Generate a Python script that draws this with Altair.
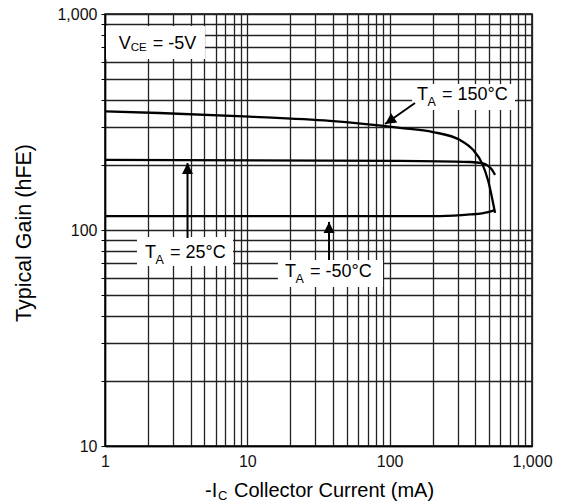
import altair as alt
import pandas as pd

FONT = "Liberation Sans"
INK = "#111111"

# Typical DC current gain vs. collector current, V_CE = -5 V
current_150 = [1, 2.4, 10.4, 38, 118, 202, 312, 385, 445, 491, 550]
gain_150 = [354, 348, 335, 320, 297, 284, 261, 235, 204, 170, 120]

current_25 = [1, 118, 369, 445, 491, 530, 550]
gain_25 = [211, 209, 206.5, 204, 198, 188, 180]

current_m50 = [1, 226, 369, 445, 491, 550]
gain_m50 = [116, 116, 118, 119.5, 121, 124]

# Log-decade grid positions and labelled decades
x_ticks = [1, 2, 3, 4, 5, 6, 7, 8, 9,
           10, 20, 30, 40, 50, 60, 70, 80, 90,
           100, 200, 300, 400, 500, 600, 700, 800, 900, 1000]
y_ticks = [10, 20, 30, 40, 50, 60, 70, 80, 90,
           100, 200, 300, 400, 500, 600, 700, 800, 900, 1000]

# Annotation anchors (data units): label text origin, white box, arrow tail/tip
label_names = ["vce", "t150", "t25", "tm50"]
label_x = [1.25, 155.6, 1.91, 18.4]
label_y = [686, 400, 73.9, 60.8]
box_x1 = [1.016, 143.6, 1.677, 16.4]
box_x2 = [5.04, 760, 7.93, 89.8]
box_y1 = [880, 474, 92.8, 72.6]
box_y2 = [619, 359, 68.1, 54.5]
arrow_x1 = [150.7, 3.80, 37.5]
arrow_y1 = [387, 91.8, 72.6]
arrow_x2 = [92.8, 3.80, 37.5]
arrow_y2 = [309.6, 204, 109]
arrow_angle = [236, 0, 0]

x_scale = alt.Scale(type="log", domain=[1, 1000], nice=False)
y_scale = alt.Scale(type="log", domain=[10, 1000], nice=False)
label_expr = "indexof([1, 10, 100, 1000], datum.value) >= 0 ? datum.label : ''"

x_axis = alt.Axis(values=x_ticks, format=",", labelExpr=label_expr, grid=True,
                  gridColor="#222222", gridWidth=1.3, ticks=False,
                  domainColor="black", domainWidth=1.5, labelFont=FONT,
                  labelFontSize=16, labelColor=INK, labelPadding=7,
                  labelFlush=False, labelOverlap=False, title=None)
y_axis = alt.Axis(values=y_ticks, format=",", labelExpr=label_expr, grid=True,
                  gridColor="#222222", gridWidth=1.3, ticks=True, tickSize=4,
                  tickColor="black", domainColor="black", domainWidth=1.5,
                  labelFont=FONT, labelFontSize=16, labelColor=INK,
                  labelPadding=4, labelFlush=False, labelOverlap=False,
                  title=None)


def X(field):
    return alt.X(field, type="quantitative", scale=x_scale, axis=x_axis)


def Y(field):
    return alt.Y(field, type="quantitative", scale=y_scale, axis=y_axis)


curves = pd.concat([
    pd.DataFrame({"current": current_150, "gain": gain_150, "series": "150"}),
    pd.DataFrame({"current": current_25, "gain": gain_25, "series": "25"}),
    pd.DataFrame({"current": current_m50, "gain": gain_m50, "series": "-50"}),
])

boxes = pd.DataFrame({"current": box_x1, "current2": box_x2,
                      "gain": box_y1, "gain2": box_y2})
arrows = pd.DataFrame({"current": arrow_x1, "gain": arrow_y1,
                       "current2": arrow_x2, "gain2": arrow_y2,
                       "angle": arrow_angle})
labels = pd.DataFrame({"name": label_names, "current": label_x, "gain": label_y})

base_lines = alt.Chart(curves).mark_line(
    color="black", strokeWidth=2.3, interpolate="monotone"
).encode(x=X("current"), y=Y("gain"), detail="series:N")

box_layer = alt.Chart(boxes).mark_rect(color="white").encode(
    x=X("current"), x2="current2", y=Y("gain"), y2="gain2")

shaft_layer = alt.Chart(arrows).mark_rule(color="black", strokeWidth=2).encode(
    x=X("current"), x2="current2", y=Y("gain"), y2="gain2")

HEAD = "M0,0L0.5,1L-0.5,1Z"
head_layers = []
for ang in sorted(set(arrow_angle)):
    sub = arrows[arrows["angle"] == ang]
    head_layers.append(
        alt.Chart(sub).mark_point(shape=HEAD, filled=True, size=484,
                                  color="black", opacity=1, angle=ang)
        .encode(x=X("current2"), y=Y("gain2"))
    )


def piece(name, text, dx=0, dy=0, size=18):
    return alt.Chart(labels[labels["name"] == name]).mark_text(
        align="left", baseline="alphabetic", dx=dx, dy=dy, font=FONT,
        fontSize=size, color="black", text=text
    ).encode(x=X("current"), y=Y("gain"))


text_layers = [
    piece("vce", "V"), piece("vce", "CE", dx=12, dy=2, size=11.5),
    piece("vce", "= -5V", dx=34),
    piece("t150", "T"), piece("t150", "A", dx=10.5, dy=6, size=12.5),
    piece("t150", "= 150°C", dx=25),
    piece("t25", "T"), piece("t25", "A", dx=10.5, dy=6, size=12.5),
    piece("t25", "= 25°C", dx=25),
    piece("tm50", "T"), piece("tm50", "A", dx=10.5, dy=6, size=12.5),
    piece("tm50", "= -50°C", dx=25),
]

one = pd.DataFrame({"k": [0]})
title_layers = [
    alt.Chart(one).mark_text(align="left", baseline="alphabetic", font=FONT,
                             fontSize=20, color="black", text="-I")
    .encode(x=alt.value(100), y=alt.value(483)),
    alt.Chart(one).mark_text(align="left", baseline="alphabetic", font=FONT,
                             fontSize=13, color="black", text="C")
    .encode(x=alt.value(113), y=alt.value(486)),
    alt.Chart(one).mark_text(align="left", baseline="alphabetic", font=FONT,
                             fontSize=20, color="black",
                             text="Collector Current (mA)")
    .encode(x=alt.value(129), y=alt.value(483)),
    alt.Chart(one).mark_text(align="center", baseline="alphabetic", font=FONT,
                             fontSize=21.5, color="black", angle=270,
                             text="Typical Gain (hFE)")
    .encode(x=alt.value(-74), y=alt.value(219)),
]

chart = alt.layer(
    box_layer, base_lines, shaft_layer, *head_layers, *text_layers, *title_layers
).properties(
    width=427, height=432,
    autosize=alt.AutoSizeParams(type="none"),
    padding={"left": 105, "top": 14, "right": 32, "bottom": 58},
).configure_view(stroke="black", strokeWidth=1.5)

chart.save("out.html", embed_options={"renderer": "svg", "actions": False})
